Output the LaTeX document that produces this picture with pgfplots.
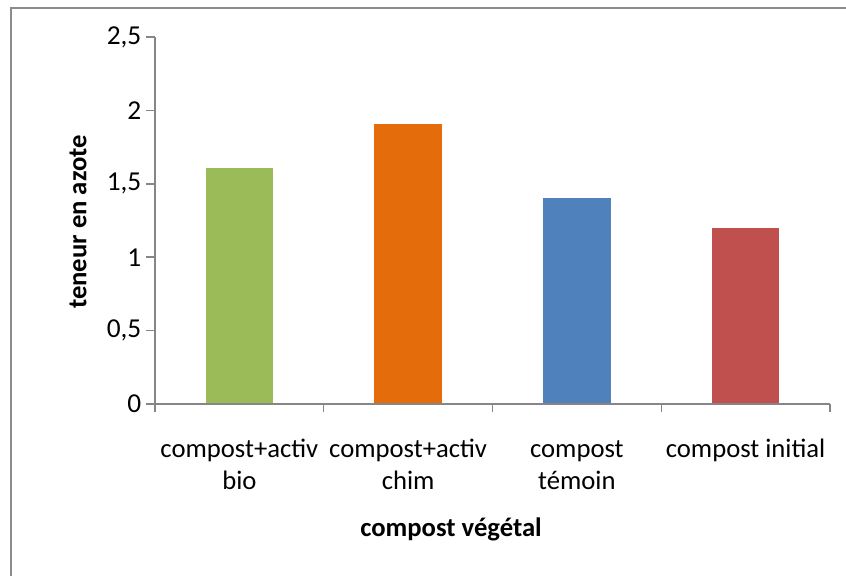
\documentclass[border=0pt]{standalone}
\usepackage{pgfplots}
\pgfplotsset{compat=1.18}
\usepackage{fontspec}
\setmainfont{Carlito}

\definecolor{cgreen}{HTML}{9BBB59}
\definecolor{corange}{HTML}{E46C0A}
\definecolor{cblue}{HTML}{4F81BD}
\definecolor{cred}{HTML}{C0504D}
\definecolor{axisgray}{HTML}{868686}
\definecolor{framegray}{HTML}{8C8C8C}

\begin{document}
\begin{tikzpicture}
\useasboundingbox (0,0) rectangle (634.5pt,-431.25pt);
% chart area border (only top and left edges fall inside the page)
\begin{scope}
  \clip (0,0) rectangle (634.5pt,-431.25pt);
  \draw[framegray, line width=1.6pt] (8pt,-460pt) -- (8pt,-6pt) -- (660pt,-6pt);
\end{scope}
\begin{axis}[
  at={(116.25pt,-303pt)}, anchor=south west,
  scale only axis, width=506.25pt, height=275.25pt,
  xmin=-0.5, xmax=3.5, ymin=0, ymax=2.5,
  axis lines*=left,
  axis line style={-, draw=axisgray, line width=1.1pt},
  tick style={draw=axisgray, line width=1.1pt},
  tick align=outside,
  major tick length=6.75pt,
  minor tick length=6pt,
  xtick={0,1,2,3},
  minor xtick={-0.5,0.5,1.5,2.5,3.5},
  major x tick style={draw=none},
  % every label has two lines so that all first lines share one baseline
  xticklabels={compost+activ\\bio, compost+activ\\chim, compost\\témoin, compost initial\\\mbox{}},
  xticklabel style={align=center, anchor=base, yshift=-57pt, font=\fontsize{20}{23.6}\selectfont},
  ytick={0,0.5,1,1.5,2,2.5},
  yticklabel style={font=\fontsize{20.5}{24}\selectfont},
  /pgf/number format/use comma,
  /pgf/number format/assume math mode=true,
  xlabel={compost végétal},
  xlabel style={font=\fontsize{20}{24}\selectfont\bfseries, at={(axis description cs:0.4385,-0.343)}, anchor=center},
  ylabel={teneur en azote},
  ylabel style={font=\fontsize{20}{24}\selectfont\bfseries, at={(axis description cs:-0.114,0.496)}, anchor=center},
  ybar, bar width=0.4,
  axis on top,
]
\addplot[fill=cgreen, draw=none, bar shift=0] coordinates {(0,1.61)};
\addplot[fill=corange, draw=none, bar shift=0] coordinates {(1,1.91)};
\addplot[fill=cblue, draw=none, bar shift=0] coordinates {(2,1.40)};
\addplot[fill=cred, draw=none, bar shift=0] coordinates {(3,1.20)};
\end{axis}
\end{tikzpicture}
\end{document}
